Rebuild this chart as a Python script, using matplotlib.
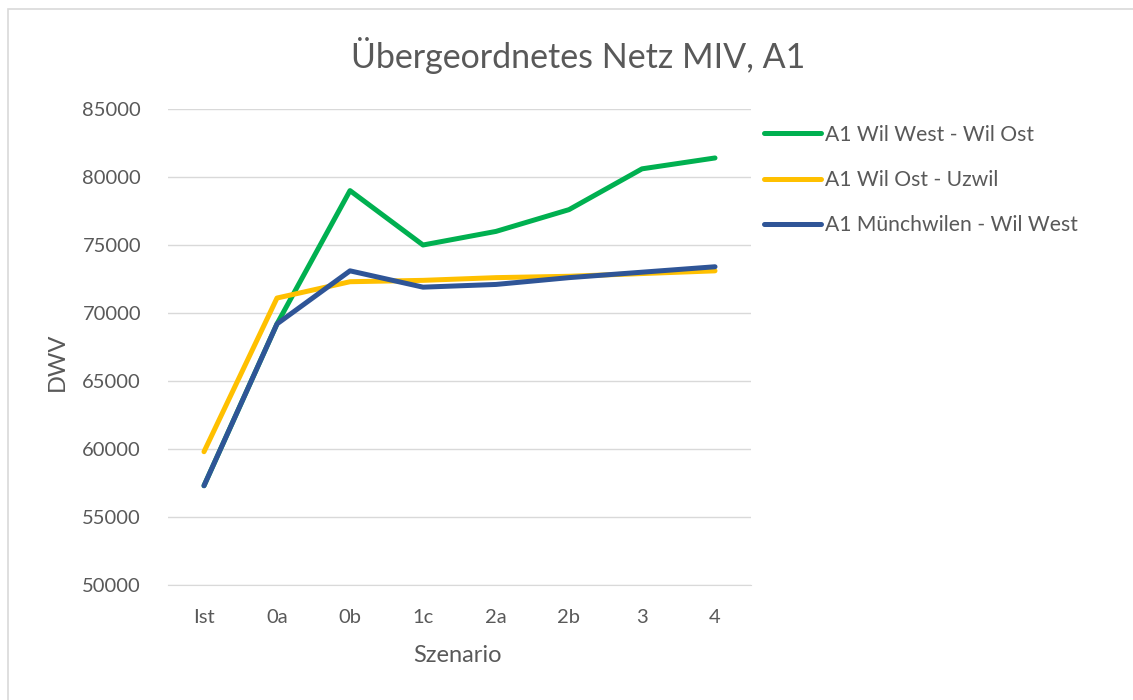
import matplotlib.pyplot as plt
from matplotlib.patches import Rectangle

TEXT, GRID = "#595959", "#D9D9D9"
GREEN, YELLOW, BLUE = "#00B050", "#FFC000", "#2F5597"

plt.rcParams.update({"font.family": ["Lato", "DejaVu Sans"], "text.color": TEXT})

szenarien = ["Ist", "0a", "0b", "1c", "2a", "2b", "3", "4"]
wil_west_wil_ost = [57300, 69200, 79000, 75000, 76000, 77600, 80600, 81400]
wil_ost_uzwil = [59800, 71100, 72300, 72400, 72600, 72700, 72900, 73100]
muenchwilen_wil_west = [57300, 69200, 73100, 71900, 72100, 72600, 73000, 73400]
y_ticks = [50000, 55000, 60000, 65000, 70000, 75000, 80000, 85000]

W, H = 1133, 700
fig = plt.figure(figsize=(W / 100, H / 100), dpi=100)
ax = fig.add_axes([167.5 / W, 1 - 585 / H, 584 / W, 476 / H])

# chart-area border (Excel style)
fig.patches.append(Rectangle((7.5 / W, -0.1), 1.2, 1.1 - 8.5 / H,
                             transform=fig.transFigure, fill=False,
                             edgecolor=GRID, lw=1.2))

x = range(len(szenarien))
series = [("A1 Wil West - Wil Ost", wil_west_wil_ost, GREEN),
          ("A1 Wil Ost - Uzwil", wil_ost_uzwil, YELLOW),
          ("A1 Münchwilen - Wil West", muenchwilen_wil_west, BLUE)]
for label, vals, col in series:
    ax.plot(x, vals, color=col, lw=3.6, label=label,
            solid_capstyle="round", solid_joinstyle="round")

ax.set_xlim(-0.5, len(szenarien) - 0.5)
ax.set_ylim(50000, 85000)
ax.set_yticks(y_ticks)
ax.set_xticks(list(x))
ax.set_xticklabels(szenarien)
ax.grid(axis="y", color=GRID, lw=1.0)
ax.set_axisbelow(True)
for s in ["top", "right", "left"]:
    ax.spines[s].set_visible(False)
ax.spines["bottom"].set_color(GRID)
ax.tick_params(axis="both", length=0, labelsize=14.5, colors=TEXT)
ax.tick_params(axis="x", pad=17)
ax.tick_params(axis="y", pad=19)

fig.text(578 / W, 1 - 55 / H, "Übergeordnetes Netz MIV, A1",
         ha="center", va="center", fontsize=24.5, color=TEXT)
fig.text(457 / W, 1 - 656 / H, "Szenario", ha="center", va="center",
         fontsize=17, color=TEXT)
fig.text(57.5 / W, 1 - 362 / H, "DWV", ha="center", va="center",
         rotation=90, fontsize=17, color=TEXT)

fig.legend(loc="upper left", bbox_to_anchor=(753 / W, 1 - 114 / H),
           frameon=False, fontsize=15.2, handlelength=2.7,
           handletextpad=0.2, labelspacing=1.2, borderpad=0,
           labelcolor=TEXT)

fig.savefig("out.png", dpi=100, facecolor="white")
